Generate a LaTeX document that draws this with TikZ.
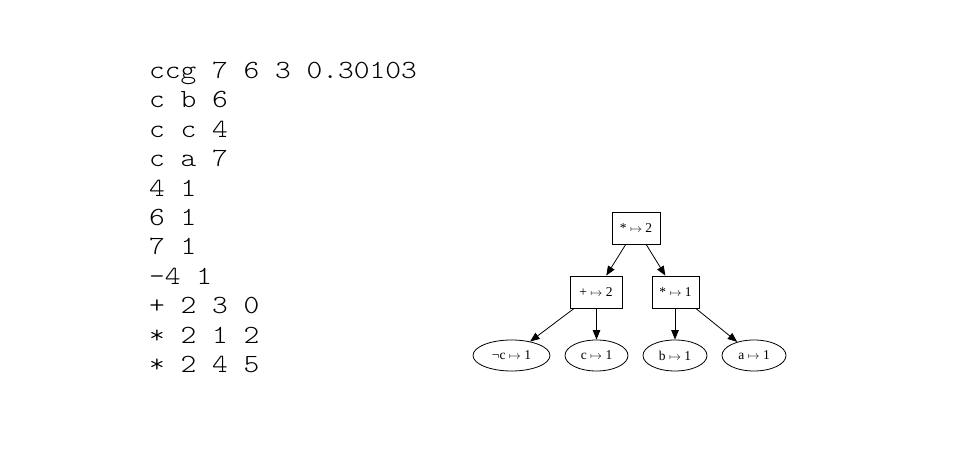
\documentclass[tikz,border=0pt]{standalone}
\usepackage{fontspec}
\setmainfont{Liberation Serif}
\newfontfamily\codefont[FakeStretch=1.145]{Latin Modern Mono Light}
\usetikzlibrary{shapes.geometric,arrows.meta}
\newcommand{\mapsymb}{{\fontsize{11.5}{12}\selectfont$\mapsto$}}
\tikzset{
  codeline/.style={anchor=base west, inner sep=0pt, font=\codefont\fontsize{26.2}{29}\selectfont},
  opbox/.style={draw, line width=0.8pt, rectangle, minimum height=32pt, inner sep=0pt, font=\fontsize{13.5}{15}\selectfont},
  leaf/.style={draw, line width=0.8pt, ellipse, minimum height=31pt, inner sep=0pt, font=\fontsize{13.5}{15}\selectfont},
  edge/.style={line width=0.8pt, -{Triangle[length=9.5pt,width=7.5pt]}}
}
\begin{document}
\begin{tikzpicture}[x=1pt,y=1pt]
\useasboundingbox (0,0) rectangle (955,470);
% code listing (baselines measured from top)
\node[codeline] (l1)  at (149,{470-78.3})  {ccg 7 6 3 0.30103};
\node[codeline] (l2)  at (149,{470-107.7}) {c b 6};
\node[codeline] (l3)  at (149,{470-137.2}) {c c 4};
\node[codeline] (l4)  at (149,{470-166.6}) {c a 7};
\node[codeline] (l5)  at (149,{470-196.1}) {4 1};
\node[codeline] (l6)  at (149,{470-225.5}) {6 1};
\node[codeline] (l7)  at (149,{470-255.0}) {7 1};
\node[codeline] (l8)  at (149,{470-284.4}) {-4 1};
\node[codeline] (l9)  at (149,{470-313.8}) {+ 2 3 0};
\node[codeline] (l10) at (149,{470-343.3}) {* 2 1 2};
\node[codeline] (l11) at (149,{470-372.7}) {* 2 4 5};
% tree
\node[opbox, minimum width=48pt] (root) at (636,{470-228}) {*~\mapsymb~2};
\node[opbox, minimum width=52pt] (plus) at (596,{470-292}) {+~\mapsymb~2};
\node[opbox, minimum width=47pt] (times) at (675.5,{470-292}) {*~\mapsymb~1};
\node[leaf, minimum width=77pt] (nc) at (511.5,{470-355.5}) {¬c~\mapsymb~1};
\node[leaf, minimum width=63pt] (c) at (596.5,{470-355.5}) {c~\mapsymb~1};
\node[leaf, minimum width=64pt] (b) at (675,{470-355.5}) {b~\mapsymb~1};
\node[leaf, minimum width=64pt] (a) at (754,{470-355.5}) {a~\mapsymb~1};
\draw[edge] (root) -- (plus);
\draw[edge] (root) -- (times);
\draw[edge] (plus) -- (nc);
\draw[edge] (plus.south -| c.north) -- (c);
\draw[edge] (times.south -| b.north) -- (b);
\draw[edge] (times) -- (a);
\end{tikzpicture}
\end{document}
